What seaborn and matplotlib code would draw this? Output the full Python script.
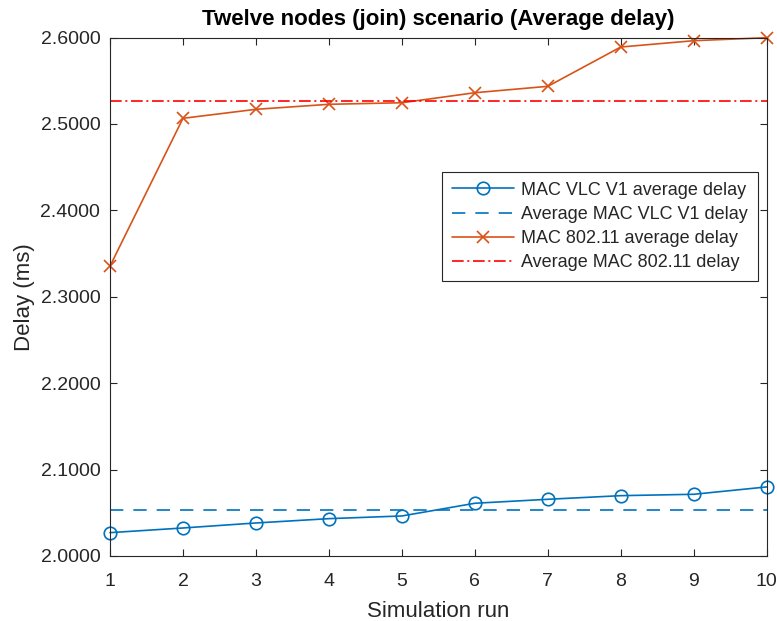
import numpy as np
import pandas as pd
import seaborn as sns
import matplotlib.pyplot as plt
from matplotlib.ticker import FormatStrFormatter

# Data
runs = [1, 2, 3, 4, 5, 6, 7, 8, 9, 10]
vlc_delay = [2.0270, 2.0324, 2.0382, 2.0432, 2.0463, 2.0610, 2.0656, 2.0698, 2.0714, 2.0799]
wifi_delay = [2.3355, 2.5065, 2.5169, 2.5227, 2.5245, 2.5361, 2.5435, 2.5890, 2.5963, 2.5998]
vlc_avg = 2.0533
wifi_avg = 2.5269

labels = ['MAC VLC V1 average delay', 'Average MAC VLC V1 delay',
          'MAC 802.11 average delay', 'Average MAC 802.11 delay']

df = pd.DataFrame({'run': runs, 'vlc': vlc_delay, 'wifi': wifi_delay,
                   'vlc_avg': [vlc_avg] * len(runs), 'wifi_avg': [wifi_avg] * len(runs)})

sns.set_style('white')
plt.rcParams['font.family'] = ['Liberation Sans', 'DejaVu Sans']

blue = '#0072BD'
orange = '#D95319'
red = '#FF0000'
dark = '#262626'

fig = plt.figure(figsize=(7.77, 6.21), dpi=100)
ax = fig.add_axes([0.1416, 0.1047, 0.8451, 0.8349])

lw = 1.2
sns.lineplot(data=df, x='run', y='vlc', ax=ax, color=blue, lw=lw, marker='o',
             markersize=9, markerfacecolor='none', markeredgecolor=blue,
             markeredgewidth=1.2, label=labels[0], clip_on=False)
sns.lineplot(data=df, x='run', y='vlc_avg', ax=ax, color=blue, lw=lw,
             linestyle=(0, (8, 6)), label=labels[1])
sns.lineplot(data=df, x='run', y='wifi', ax=ax, color=orange, lw=lw, marker='x',
             markersize=8, markeredgecolor=orange, markeredgewidth=1.2,
             label=labels[2], clip_on=False)
sns.lineplot(data=df, x='run', y='wifi_avg', ax=ax, color=red, lw=lw,
             linestyle=(0, (7, 2.2, 1.2, 2.2)), label=labels[3])

ax.set_xlim(1, 10)
ax.set_ylim(2.0, 2.6)
ax.set_xticks(runs)
ax.set_yticks(np.arange(2.0, 2.61, 0.1))
ax.yaxis.set_major_formatter(FormatStrFormatter('%.4f'))

for s in ax.spines.values():
    s.set_color(dark)
    s.set_linewidth(0.8)
ax.tick_params(direction='in', length=5, width=0.8, color=dark, labelcolor=dark,
               labelsize=14, top=True, right=True, bottom=True, left=True, pad=7)
ax.tick_params(axis='x', pad=12)

ax.set_xlabel('Simulation run', fontsize=16, color=dark, labelpad=8)
ax.set_ylabel('Delay (ms)', fontsize=16, color=dark, labelpad=4)
ax.set_title('Twelve nodes (join) scenario (Average delay)', fontsize=16,
             fontweight='bold', color='black', pad=9)

leg = ax.legend(loc='upper right', bbox_to_anchor=(0.9863, 0.7412), borderaxespad=0,
                fontsize=13, handlelength=3.4, handletextpad=0.4, labelspacing=0.4,
                borderpad=0.55, fancybox=False, framealpha=1, edgecolor=dark)
leg.get_frame().set_linewidth(0.8)

fig.savefig('out.png', dpi=100)
